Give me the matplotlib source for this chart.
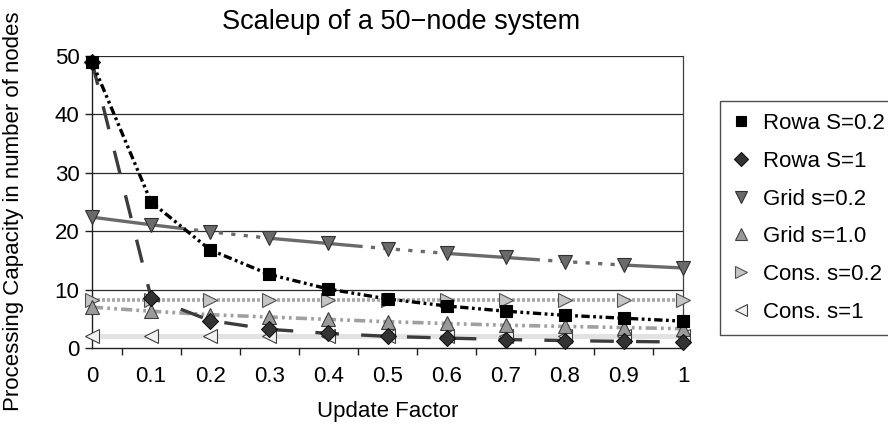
import matplotlib
matplotlib.use("Agg")
import matplotlib.pyplot as plt
from matplotlib.lines import Line2D

plt.rcParams['font.family'] = ['Liberation Sans', 'DejaVu Sans']
plt.rcParams['lines.scale_dashes'] = False

# Update factor values (x axis)
update_factor = [0.0, 0.1, 0.2, 0.3, 0.4, 0.5, 0.6, 0.7, 0.8, 0.9, 1.0]

# Processing capacity (in number of nodes) for each configuration
rowa_s02 = [49, 25.0, 16.8, 12.6, 10.1, 8.4, 7.2, 6.3, 5.6, 5.1, 4.6]
rowa_s1 = [49, 8.6, 4.7, 3.2, 2.5, 2.0, 1.7, 1.45, 1.27, 1.13, 1.02]
grid_s02 = [22.4, 21.1, 19.9, 18.8, 17.9, 17.0, 16.2, 15.5, 14.8, 14.2, 13.7]
grid_s1 = [7.0, 6.3, 5.7, 5.3, 4.9, 4.5, 4.2, 3.9, 3.7, 3.5, 3.3]
cons_s02 = [8.3, 8.3, 8.3, 8.3, 8.3, 8.3, 8.3, 8.3, 8.3, 8.3, 8.3]
cons_s1 = [2.0, 2.0, 2.0, 2.0, 2.0, 2.0, 2.0, 2.0, 2.0, 2.0, 2.0]

series_labels = ["Rowa S=0.2", "Rowa S=1", "Grid s=0.2", "Grid s=1.0",
                 "Cons. s=0.2", "Cons. s=1"]
x_tick_labels = ["0", "0.1", "0.2", "0.3", "0.4", "0.5", "0.6", "0.7",
                 "0.8", "0.9", "1"]
y_ticks = [0, 10, 20, 30, 40, 50]

title = "Scaleup of a 50\u2212node system"
x_label = "Update Factor"
y_label = "Processing Capacity in number of nodes"

W, H = 888, 432
fig = plt.figure(figsize=(W / 100, H / 100), dpi=100)
left, right, top, bottom = 92, 683, 56, 348
ax = fig.add_axes([left / W, 1 - bottom / H, (right - left) / W, (bottom - top) / H])

styles = [
    dict(color="black", lw=2.4, dashes=(6, 2.5, 2, 2.5, 2, 2.5),
         marker="s", ms=8.5, mfc="black", mec="black"),
    dict(color="#3c3c3c", lw=2.4, dashes=(17, 16),
         marker="D", ms=8.5, mfc="#333333", mec="#111111"),
    dict(color="#6a6a6a", lw=2.4,
         dashes=(68, 6, 3, 6, 3, 6, 3, 6, 3, 6, 3, 6, 3, 6),
         marker="v", ms=10, mfc="#6a6a6a", mec="#303030"),
    dict(color="#a0a0a0", lw=2.6, dashes=(8, 3, 2, 3, 2, 3),
         marker="^", ms=10, mfc="#9a9a9a", mec="#404040"),
    dict(color="#a8a8a8", lw=2.6, dashes=(2.2, 1.4),
         marker=">", ms=10, mfc="#c4c4c4", mec="#505050"),
    dict(color="#e2e2e2", lw=3.6, linestyle="-",
         marker="<", ms=10, mfc="#f2f2f2", mec="#404040"),
]
data = [rowa_s02, rowa_s1, grid_s02, grid_s1, cons_s02, cons_s1]

# Draw lightest series first so darker ones sit on top
for i in [5, 4, 3, 2, 1, 0]:
    ax.plot(update_factor, data[i], label=series_labels[i], clip_on=False,
            zorder=3 + (5 - i) * 0.1, mew=0.8, **styles[i])

ax.set_xlim(0, 1)
ax.set_ylim(0, 50)

# Horizontal gridlines
for y in y_ticks[1:]:
    ax.axhline(y, color="#2a2a2a", lw=0.9, zorder=1)

ax.spines["top"].set_visible(False)
ax.spines["right"].set_color("#404040")
ax.spines["right"].set_linewidth(0.9)
for s in ["left", "bottom"]:
    ax.spines[s].set_color("#202020")
    ax.spines[s].set_linewidth(1.0)

ax.set_xticks(update_factor)
ax.set_xticklabels(x_tick_labels)
ax.set_xticks([0.0] + [0.05 + 0.1 * k for k in range(10)], minor=True)
ax.tick_params(axis="x", which="major", length=0, pad=13, labelsize=16)
ax.tick_params(axis="x", which="minor", length=5, width=1.0, color="#202020",
               direction="out")
ax.set_yticks(y_ticks)
ax.set_yticklabels([str(v) for v in y_ticks])
ax.tick_params(axis="y", which="major", length=5, width=1.0, color="#202020",
               pad=4, labelsize=16)

fig.text(401 / W, 1 - 22 / H, title, ha="center", va="center", fontsize=19.5)
fig.text(388 / W, 1 - 411 / H, x_label, ha="center", va="center", fontsize=16)
fig.text(14 / W, 1 - 211 / H, y_label, ha="center", va="center", fontsize=16,
         rotation=90)

# Legend with markers only
leg_handles = []
for st in styles:
    leg_handles.append(Line2D([], [], linestyle="none", marker=st["marker"],
                              ms=st["ms"] * 0.8, mfc=st["mfc"], mec=st["mec"],
                              mew=0.8))
leg = fig.legend(leg_handles, series_labels, loc="upper left",
                 bbox_to_anchor=(720 / W, 1 - 101 / H), fontsize=16,
                 frameon=True, fancybox=False, edgecolor="#202020",
                 handlelength=0.8, handletextpad=0.6, labelspacing=0.75,
                 borderpad=0.55, borderaxespad=0)
leg.get_frame().set_linewidth(1.0)

fig.savefig("out.png", dpi=100)
